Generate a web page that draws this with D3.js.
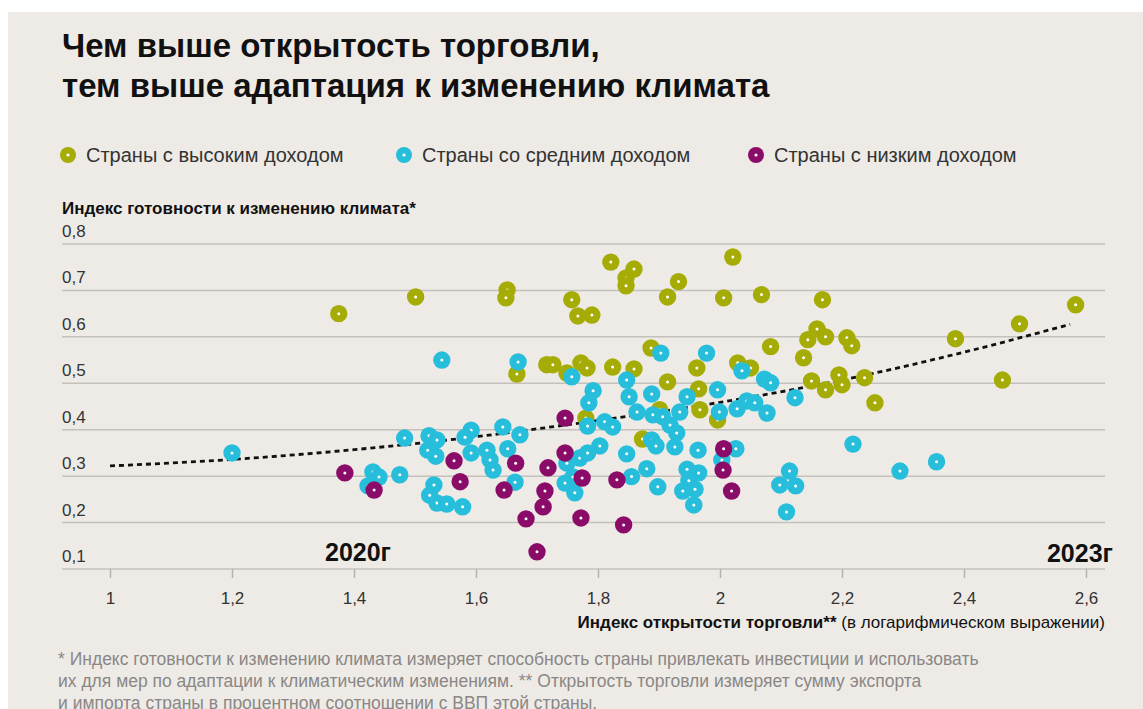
<!DOCTYPE html>
<html>
<head>
<meta charset="utf-8">
<script src="https://d3js.org/d3.v7.min.js"></script>
<style>
  body { margin: 0; background: #fff; }
  text { font-family: "Liberation Sans", Arial, sans-serif; }
</style>
</head>
<body>
<div id="chart"></div>
<script>
// data: [trade openness (log), climate readiness]
var highIncome = [
  [1.375,0.650],[1.501,0.686],[1.651,0.701],[1.649,0.684],[1.757,0.680],[1.767,0.645],
  [1.790,0.647],[1.821,0.761],[1.859,0.746],[1.846,0.727],[1.846,0.710],[1.914,0.686],
  [1.932,0.719],[2.021,0.772],[2.006,0.684],[2.068,0.691],[2.168,0.680],[2.083,0.579],
  [2.137,0.555],[2.144,0.594],[2.159,0.617],[2.173,0.600],[2.208,0.598],[2.216,0.581],
  [1.824,0.535],[1.859,0.531],[1.887,0.576],[1.962,0.533],[1.914,0.503],[1.965,0.488],
  [2.029,0.544],[2.050,0.533],[1.967,0.443],[1.996,0.421],[2.150,0.505],[2.173,0.486],
  [2.195,0.518],[2.200,0.497],[2.237,0.512],[2.254,0.458],[2.386,0.596],[2.491,0.628],
  [2.583,0.669],[2.463,0.507],[1.716,0.540],[1.726,0.540],[1.667,0.520],[1.749,0.522],
  [1.772,0.544],[1.782,0.533],[1.780,0.425],[1.873,0.380],[1.901,0.443]
];
var middleIncome = [
  [1.200,0.350],[1.544,0.550],[1.483,0.382],[1.475,0.303],[1.431,0.309],[1.441,0.298],
  [1.423,0.279],[1.523,0.387],[1.536,0.378],[1.521,0.356],[1.534,0.343],[1.531,0.281],
  [1.524,0.259],[1.536,0.242],[1.552,0.240],[1.578,0.234],[1.592,0.399],[1.582,0.384],
  [1.592,0.350],[1.618,0.356],[1.623,0.335],[1.628,0.313],[1.644,0.406],[1.672,0.389],
  [1.652,0.359],[1.664,0.287],[1.669,0.546],[1.749,0.328],[1.770,0.339],[1.783,0.350],
  [1.803,0.365],[1.746,0.285],[1.759,0.298],[1.762,0.264],[1.757,0.514],[1.792,0.484],
  [1.785,0.458],[1.783,0.408],[1.811,0.417],[1.824,0.406],[1.847,0.507],[1.851,0.471],
  [1.888,0.477],[1.946,0.471],[1.996,0.486],[1.903,0.565],[1.978,0.565],[2.036,0.527],
  [1.864,0.438],[1.890,0.432],[1.906,0.428],[1.934,0.438],[1.918,0.410],[1.929,0.393],
  [1.999,0.438],[2.028,0.445],[2.044,0.462],[2.057,0.458],[2.077,0.436],[2.073,0.509],
  [2.083,0.501],[2.123,0.469],[1.888,0.378],[1.895,0.365],[1.926,0.363],[1.964,0.356],
  [2.026,0.359],[2.003,0.335],[1.847,0.348],[1.880,0.316],[1.855,0.299],[1.898,0.277],
  [1.946,0.315],[1.965,0.307],[1.949,0.290],[1.939,0.268],[1.959,0.272],[1.957,0.238],
  [2.098,0.281],[2.114,0.311],[2.124,0.279],[2.109,0.223],[2.218,0.369],[2.295,0.311],
  [2.355,0.331]
];
var lowIncome = [
  [1.385,0.307],[1.433,0.270],[1.564,0.333],[1.574,0.288],[1.665,0.328],[1.646,0.270],
  [1.718,0.318],[1.713,0.268],[1.710,0.234],[1.682,0.208],[1.700,0.137],[1.746,0.350],
  [1.746,0.425],[1.774,0.296],[1.772,0.210],[1.831,0.292],[1.842,0.195],[2.006,0.359],
  [2.005,0.313],[2.019,0.268]
];
// dotted trend line
var trend = [
  [1.0,0.322],[1.2,0.336],[1.4,0.357],[1.6,0.385],[1.8,0.420],[2.0,0.459],
  [2.2,0.507],[2.4,0.567],[2.574,0.627]
];
var xTicks = [1, 1.2, 1.4, 1.6, 1.8, 2, 2.2, 2.4, 2.6];
var yTicks = [0.1, 0.2, 0.3, 0.4, 0.5, 0.6, 0.7, 0.8];
var groups = ["Страны с высоким доходом", "Страны со средним доходом", "Страны с низким доходом"];
var colors = ["#a5ac06", "#27bedb", "#8b0b69"];

var W = 1143, H = 709;
var svg = d3.select("#chart").append("svg")
  .attr("width", W).attr("height", H);

svg.append("rect").attr("x", 8).attr("y", 12)
  .attr("width", W - 8).attr("height", H - 12)
  .attr("fill", "#eeebe7");

var ru = d3.formatLocale({decimal: ",", thousands: " ", grouping: [3], currency: ["", ""]});
var fmt = ru.format("~g");

var x = d3.scaleLinear().domain([1, 2.6]).range([110, 1086]);
var y = d3.scaleLinear().domain([0.1, 0.8]).range([569, 244]);

// title
var title = svg.append("text").attr("x", 62).attr("y", 57)
  .attr("font-size", 33).attr("font-weight", "bold").attr("fill", "#111");
title.append("tspan").attr("x", 62).text("Чем выше открытость торговли,");
title.append("tspan").attr("x", 62).attr("dy", 40).text("тем выше адаптация к изменению климата");

// legend
var legX = [68, 404, 756];
var leg = svg.selectAll(".leg").data(groups).enter().append("g")
  .attr("transform", function(d, i) { return "translate(" + legX[i] + ",155)"; });
leg.append("circle").attr("r", 8).attr("fill", function(d, i) { return colors[i]; });
leg.append("circle").attr("r", 1.6).attr("fill", "#fff");
leg.append("text").attr("x", 18).attr("y", 7).attr("font-size", 20)
  .attr("fill", "#333").text(function(d) { return d; });

// y axis title
svg.append("text").attr("x", 62).attr("y", 214)
  .attr("font-size", 17).attr("font-weight", "bold").attr("fill", "#111")
  .text("Индекс готовности к изменению климата*");

// gridlines + labels
svg.selectAll(".grid").data(yTicks).enter().append("line")
  .attr("x1", 62).attr("x2", 1105)
  .attr("y1", function(d) { return y(d); }).attr("y2", function(d) { return y(d); })
  .attr("stroke", "#c4c1bd").attr("stroke-width", 1.5);
svg.selectAll(".ylab").data(yTicks).enter().append("text")
  .attr("x", 62).attr("y", function(d) { return y(d) - 7; })
  .attr("font-size", 17).attr("fill", "#333")
  .text(function(d) { return fmt(d); });

// x axis
var xAxis = svg.append("g").attr("transform", "translate(0," + y(0.1) + ")")
  .call(d3.axisBottom(x).tickValues(xTicks).tickFormat(fmt).tickSize(9).tickPadding(14));
xAxis.select(".domain").remove();
xAxis.selectAll(".tick line").attr("stroke", "#b5b2ae").attr("stroke-width", 1.5);
xAxis.selectAll(".tick text").attr("font-size", 17).attr("fill", "#333")
  .attr("font-family", "Liberation Sans, Arial, sans-serif");

var xt = svg.append("text").attr("x", 1105).attr("y", 628)
  .attr("text-anchor", "end").attr("font-size", 17).attr("fill", "#111");
xt.append("tspan").attr("font-weight", "bold").text("Индекс открытости торговли**");
xt.append("tspan").text(" (в логарифмическом выражении)");

// year labels
svg.append("text").attr("x", 325).attr("y", 561).attr("font-size", 25)
  .attr("font-weight", "bold").attr("fill", "#111").text("2020г");
svg.append("text").attr("x", 1113).attr("y", 562).attr("font-size", 25)
  .attr("text-anchor", "end").attr("font-weight", "bold").attr("fill", "#111").text("2023г");

// trend line
svg.append("path").datum(trend)
  .attr("d", d3.line().x(function(d) { return x(d[0]); }).y(function(d) { return y(d[1]); })
    .curve(d3.curveMonotoneX))
  .attr("fill", "none").attr("stroke", "#111").attr("stroke-width", 2.8)
  .attr("stroke-dasharray", "5,4");

// points
var series = [highIncome, middleIncome, lowIncome];
series.forEach(function(data, i) {
  var g = svg.append("g");
  var dot = g.selectAll("g").data(data).enter().append("g")
    .attr("transform", function(d) { return "translate(" + x(d[0]) + "," + y(d[1]) + ")"; });
  dot.append("circle").attr("r", 8.7).attr("fill", colors[i]);
  dot.append("circle").attr("r", 1.5).attr("fill", "#fff");
});

// footnote
var notes = [
  "* Индекс готовности к изменению климата измеряет способность страны привлекать инвестиции и использовать",
  "их для мер по адаптации к климатическим изменениям. ** Открытость торговли измеряет сумму экспорта",
  "и импорта страны в процентном соотношении с ВВП этой страны."
];
svg.selectAll(".note").data(notes).enter().append("text")
  .attr("x", 58).attr("y", function(d, i) { return 665 + i * 22; })
  .attr("font-size", 17.5).attr("fill", "#8a8785")
  .text(function(d) { return d; });
</script>
</body>
</html>
